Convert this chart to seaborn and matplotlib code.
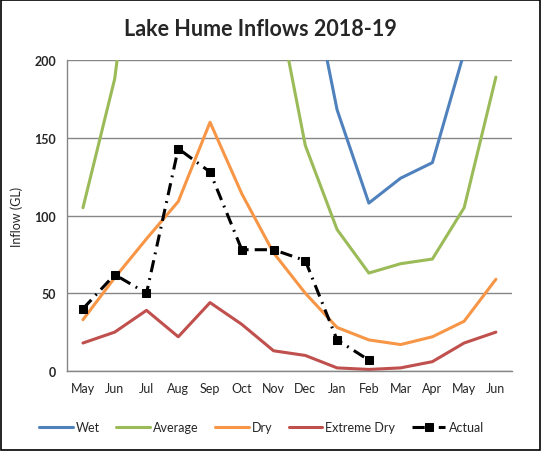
import numpy as np
import pandas as pd
import matplotlib
matplotlib.use('Agg')
import matplotlib.pyplot as plt
import seaborn as sns

# Monthly inflows (GL), May 2018 - Jun 2019; values above 200 run off the chart
months = ['May', 'Jun', 'Jul', 'Aug', 'Sep', 'Oct', 'Nov', 'Dec',
          'Jan', 'Feb', 'Mar', 'Apr', 'May', 'Jun']
wet = [250, 380, 480, 560, 600, 520, 400, 270, 168, 108, 124, 134, 205, 320]
average = [105, 188, 350, 420, 450, 380, 250, 145, 91, 63, 69, 72, 105, 189]
dry = [33, 60, 85, 109, 160, 114, 76, 50, 28, 20, 17, 22, 32, 59]
extreme_dry = [18, 25, 39, 22, 44, 30, 13, 10, 2, 1, 2, 6, 18, 25]
actual = [40, 62, 50, 143, 128, 78, 78, 71, 20, 7]

sns.set_style('white')
plt.rcParams['font.family'] = ['Lato', 'DejaVu Sans']

fig = plt.figure(figsize=(5.41, 4.52), dpi=100)
ax = fig.add_axes([0.124, 0.177, 0.822, 0.688])

idx = np.arange(len(months))
series = [('Wet', wet, '#4F81BD'), ('Average', average, '#9BBB59'),
          ('Dry', dry, '#F79646'), ('Extreme Dry', extreme_dry, '#C0504D')]
for name, vals, col in series:
    sns.lineplot(x=idx, y=vals, ax=ax, color=col, linewidth=2.2, label=name, sort=False)

act_idx = np.arange(len(actual))
sns.lineplot(x=act_idx, y=actual, ax=ax, color='black', linewidth=2.2,
             marker='s', markersize=6, markeredgecolor='black',
             label='Actual', sort=False)
ax.lines[-1].set_dashes((4, 2, 0.6, 2))

ax.set_xlim(-0.5, len(months) - 0.5)
ax.set_ylim(0, 200)
ax.set_yticks([0, 50, 100, 150, 200])
ax.set_yticklabels(['0', '50', '100', '150', '200'], fontweight='bold', fontsize=9)
ax.set_xticks(idx)
ax.set_xticklabels(months, fontsize=9)
ax.set_xticks(np.arange(-0.5, len(months)), minor=True)
ax.tick_params(axis='x', which='major', length=0, pad=8)
ax.tick_params(axis='x', which='minor', length=5, color='#868686', width=1, direction='out')
ax.tick_params(axis='y', length=4, color='#868686', width=1, direction='out', pad=4)
ax.grid(axis='y', color='#868686', linewidth=1)
ax.set_axisbelow(True)
for s in ['top', 'right']:
    ax.spines[s].set_visible(False)
for s in ['left', 'bottom']:
    ax.spines[s].set_color('#868686')
    ax.spines[s].set_linewidth(1)

ax.set_ylabel('Inflow (GL)', fontsize=9, labelpad=8)
ax.set_xlabel('')
fig.text(0.482, 0.935, 'Lake Hume Inflows 2018-19', ha='center', va='center',
         fontsize=15.5, fontweight='bold')

handles, labels = ax.get_legend_handles_labels()
ax.get_legend().remove()
fig.legend(handles, labels, loc='center', bbox_to_anchor=(0.483, 0.053), ncol=5,
           frameon=False, fontsize=9, handlelength=2.7, columnspacing=1.3,
           handletextpad=0.25)

fig.patches.append(plt.Rectangle((0.002, 0.002), 0.996, 0.996, transform=fig.transFigure,
                                 fill=False, edgecolor='black', linewidth=1.2))

fig.savefig('out.png', dpi=100)
